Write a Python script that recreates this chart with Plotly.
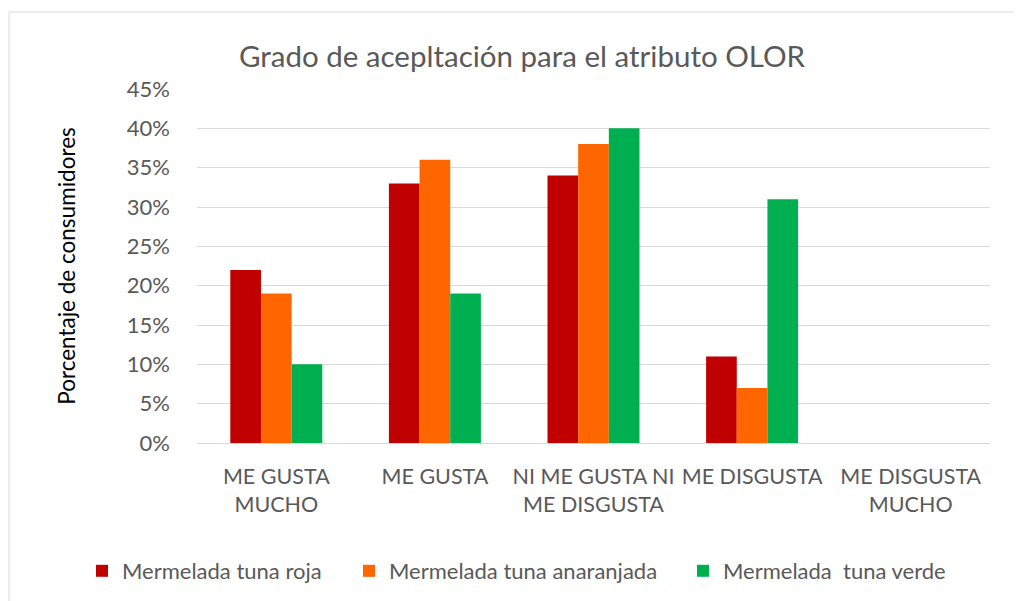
import plotly.graph_objects as go

categories = ["ME GUSTA<br>MUCHO", "ME GUSTA", "NI ME GUSTA NI<br>ME DISGUSTA", "ME DISGUSTA", "ME DISGUSTA<br>MUCHO"]
roja = [0.22, 0.33, 0.34, 0.11, 0.0]
anaranjada = [0.19, 0.36, 0.38, 0.07, 0.0]
verde = [0.10, 0.19, 0.40, 0.31, 0.0]
series_names = ["Mermelada tuna roja", "Mermelada tuna anaranjada", "Mermelada  tuna verde"]
colors = ["#C00000", "#FF6600", "#00B050"]
yticks = [0, 0.05, 0.10, 0.15, 0.20, 0.25, 0.30, 0.35, 0.40, 0.45]

FONT = "Lato, Open Sans, sans-serif"
GREY = "#595959"
legend_ids = ["legend", "legend2", "legend3"]
legend_x_px = [82, 349, 683]

fig = go.Figure()
for name, vals, c, lg in zip(series_names, [roja, anaranjada, verde], colors, legend_ids):
    fig.add_trace(go.Bar(x=categories, y=vals, name=name, marker_color=c, marker_line_width=0, legend=lg))

legend_common = dict(orientation="h", xref="container", yref="container", xanchor="left",
                     y=1 - (571 - 8) / 593, yanchor="middle", itemwidth=30,
                     font=dict(size=22, color=GREY, family=FONT))
fig.update_layout(
    width=1013, height=593,
    paper_bgcolor="white", plot_bgcolor="white",
    margin=dict(l=189, r=31, t=81, b=158, autoexpand=False),
    barmode="group", bargap=0.42, bargroupgap=0,
    font=dict(family=FONT, color=GREY, size=20),
    title=dict(text="Grado de acepltación para el atributo OLOR", x=(522 - 8) / 1013, xanchor="center",
               y=1 - 49 / 593, yref="container", yanchor="middle",
               font=dict(size=29.5, color=GREY, family=FONT)),
    showlegend=True,
)
for lg, px in zip(legend_ids, legend_x_px):
    fig.update_layout({lg: dict(legend_common, x=(px - 8) / 1013)})

fig.update_yaxes(range=[0, 0.45], tickvals=yticks, tickformat=".0%", showgrid=True,
                 gridcolor="#D9D9D9", gridwidth=1, zeroline=False, showline=False,
                 ticks="", ticklabelstandoff=26,
                 title=dict(text="Porcentaje de consumidores", standoff=44,
                            font=dict(size=22.5, color="#000000", family=FONT)),
                 tickfont=dict(size=22, color=GREY))
fig.update_xaxes(showline=True, linecolor="#D9D9D9", linewidth=1, ticks="", showgrid=False,
                 ticklabelstandoff=14,
                 tickfont=dict(size=21.5, color=GREY))

fig.add_shape(type="rect", xref="paper", yref="paper",
              x0=(9 - 197) / 793, x1=(1030 - 197) / 793,
              y0=(443 - 610) / 354, y1=(443 - 12) / 354,
              line=dict(color="#D9D9D9", width=1), fillcolor="rgba(0,0,0,0)", layer="below")

fig.write_html("out.html")
